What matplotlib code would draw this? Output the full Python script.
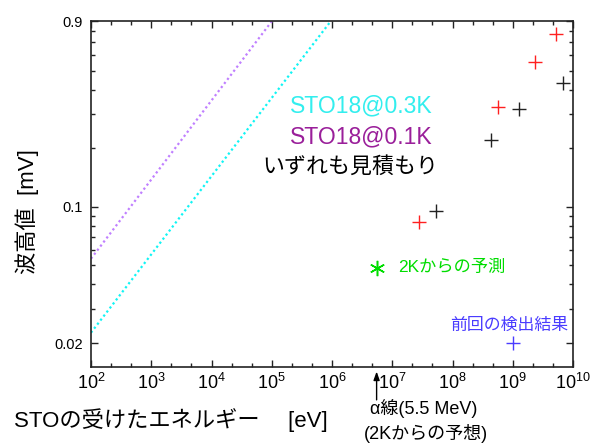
import matplotlib
matplotlib.use("Agg")
import matplotlib.pyplot as plt
from matplotlib.ticker import FixedLocator, NullFormatter, LogLocator, FuncFormatter
import numpy as np

plt.rcParams['font.family'] = ['Liberation Sans', 'Noto Sans CJK JP', 'DejaVu Sans']
plt.rcParams['mathtext.fontset'] = 'custom'
plt.rcParams['mathtext.rm'] = 'Liberation Sans'
plt.rcParams['mathtext.it'] = 'Liberation Sans:italic'

# Data (energy in eV, pulse height in mV)
black_E = [5.4e7, 4.4e8, 1.27e9, 6.8e9]
black_V = [0.0955, 0.221, 0.318, 0.433]
red_E = [2.76e7, 5.7e8, 2.35e9, 5.2e9]
red_V = [0.0838, 0.326, 0.554, 0.772]
prev_E = [1.0e9]
prev_V = [0.02]
pred2K_E = [5.5e6]
pred2K_V = [0.0487]
# estimated lines (end points of straight lines on log-log)
sto01_E = [1e2, 1.01e5]
sto01_V = [0.0542, 0.9]
sto03_E = [1e2, 9.6e5]
sto03_V = [0.0226, 0.9]

xticks = [1e2, 1e3, 1e4, 1e5, 1e6, 1e7, 1e8, 1e9, 1e10]
yticks = [0.02, 0.1, 0.9]
ytick_labels = ['0.02', '0.1', '0.9']

fig = plt.figure(figsize=(5.95, 4.44), dpi=100)
ax = fig.add_axes([91/595, 1-367/444, 482/595, 346/444])
ax.set_xscale('log')
ax.set_yscale('log')
ax.set_xlim(1e2, 1e10)
ax.set_ylim(0.01506, 0.9)

ax.plot(sto01_E, sto01_V, color='#c080ff', lw=1.6, linestyle=(0, (1, 1.3)))
ax.plot(sto03_E, sto03_V, color='#11f4f4', lw=1.6, linestyle=(0, (1, 1.3)))
ax.plot(black_E, black_V, '+', color='#222222', ms=9.5, mew=1.0, ls='none')
ax.plot(red_E, red_V, '+', color='#ff2020', ms=9.5, mew=1.0, ls='none')
ax.plot(prev_E, prev_V, '+', color='#4a3cff', ms=9.5, mew=1.0, ls='none')
ax.plot(pred2K_E, pred2K_V, marker=(6, 2, 0), color='#00dd00', ms=11, mew=1.1, ls='none')

# ticks
ax.xaxis.set_major_locator(FixedLocator(xticks))
ax.xaxis.set_major_formatter(FuncFormatter(lambda v, p: r'$10^{%d}$' % round(np.log10(v))))
ax.xaxis.set_minor_locator(LogLocator(base=10, subs=[10**(1/3), 10**(2/3)], numticks=20))
ax.xaxis.set_minor_formatter(NullFormatter())
ax.yaxis.set_major_locator(FixedLocator(yticks))
ax.set_yticklabels(ytick_labels)
ax.yaxis.set_minor_locator(LogLocator(base=10, subs=np.arange(2, 10), numticks=20))
ax.yaxis.set_minor_formatter(NullFormatter())
ax.tick_params(which='both', direction='in', top=True, right=True, width=1.0, color='#222222')
ax.tick_params(which='major', length=5)
ax.tick_params(which='minor', length=3)
ax.tick_params(axis='x', which='major', labelsize=13, pad=4)
ax.tick_params(axis='y', which='major', labelsize=10.5, pad=6)
for s in ax.spines.values():
    s.set_linewidth(1.2)
    s.set_color('#222222')

# annotations inside
ax.text(0.413, 0.754, 'STO18@0.3K', transform=ax.transAxes, color='#33eeee', fontsize=16.6, va='center', ha='left')
ax.text(0.413, 0.665, 'STO18@0.1K', transform=ax.transAxes, color='#9a1f9a', fontsize=16.6, va='center', ha='left')
ax.text(0.355, 0.578, 'いずれも見積もり', transform=ax.transAxes, color='black', fontsize=15.8, va='center', ha='left')
ax.text(0.637, 0.289, '2Kからの予測', transform=ax.transAxes, color='#00dd00', fontsize=12.4, va='center', ha='left')
ax.text(0.99, 0.121, '前回の検出結果', transform=ax.transAxes, color='#4a3cff', fontsize=12.2, va='center', ha='right')

# arrow and alpha note
ax.annotate('', xy=(5.5e6, -0.013), xycoords=ax.get_xaxis_transform(),
            xytext=(5.5e6, -0.095), textcoords=ax.get_xaxis_transform(),
            arrowprops=dict(arrowstyle='-|>,head_length=0.5,head_width=0.18', color='black', lw=1.0, shrinkA=0, shrinkB=0))
fig.text(424/595, 1-409/444, 'α線(5.5 MeV)', ha='center', va='center', fontsize=13)
fig.text(426/595, 1-433/444, '(2Kからの予想)', ha='center', va='center', fontsize=13)

# axis labels
fig.text(14/595, 1-420/444, 'STOの受けたエネルギー　 [eV]', ha='left', va='center', fontsize=16)
fig.text(27/595, 1-212/444, '波高値  [mV]', ha='center', va='center', fontsize=16, rotation=90)

fig.savefig('out.png', dpi=100)
